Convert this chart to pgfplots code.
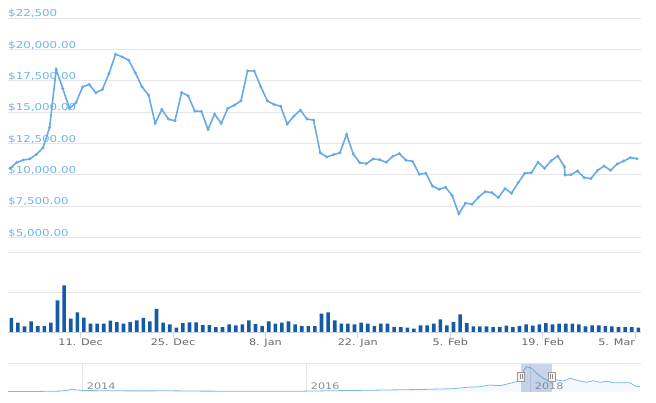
\documentclass[border=0pt]{standalone}
\usepackage{fontspec}
\setmainfont{DejaVu Sans}
\usepackage{graphicx}
\usepackage{pgfplots}
\usepackage{pgfplotstable}
\pgfplotsset{compat=1.18}

\definecolor{linec}{RGB}{102,170,232}
\definecolor{markc}{RGB}{40,100,170}
\definecolor{barc}{RGB}{20,90,165}
\definecolor{gridc}{RGB}{230,230,230}
\definecolor{tickc}{RGB}{204,214,235}
\definecolor{labc}{RGB}{110,180,232}
\definecolor{datec}{RGB}{102,102,102}
\definecolor{navc}{RGB}{124,181,236}
\definecolor{selc}{RGB}{102,133,194}
\newcommand{\wl}[1]{\scalebox{1.25}[1]{#1}}

% daily price, k = day index (Dec 11 at 10.7)
\pgfplotstableread{
k price
0 10533
1 10979
2 11194
3 11274
4 11648
5 12173
6 13797
7 18414
8 16901
9 15309
10 15755
11 17029
12 17220
13 16551
14 16822
15 18095
16 19632
17 19419
18 19154
19 18143
20 17029
21 16368
22 14115
23 15230
24 14458
25 14322
26 16583
27 16312
28 15094
29 15071
30 13638
31 14856
32 14115
33 15309
34 15572
35 15914
36 18302
37 18302
38 17029
39 15914
40 15628
41 15492
42 14060
43 14696
44 15174
45 14458
46 14378
47 11775
48 11433
49 11616
50 11775
51 13240
52 11672
53 10979
54 10899
55 11274
56 11218
57 11011
58 11489
59 11696
60 11170
61 11091
62 10056
63 10135
64 9124
65 8862
66 9021
67 8352
68 6896
69 7747
70 7668
71 8225
72 8671
73 8591
74 8193
75 8910
76 8543
77 9387
78 10135
79 10183
80 11011
81 10533
82 11138
83 11512
84 10661
84.1 10000
85 10024
86 10318
87 9785
88 9705
89 10342
90 10716
91 10374
92 10876
93 11114
94 11377
95 11297
}\price

% volume, bar height in pane units
\pgfplotstableread{
k vol
0 14
1 9.3
2 5.7
3 10.7
4 6
5 6
6 9.3
7 31.7
8 46.7
9 13.3
10 19.7
11 14.3
12 8.3
13 8.3
14 8.3
15 11.3
16 10
17 8.3
18 10
19 11.7
20 14
21 10.7
22 23
23 9.3
24 7.7
25 4.3
26 9
27 9.7
28 9.7
29 7
30 7
31 5
32 5
33 7.7
34 6.7
35 7.7
36 11.7
37 8
38 6
39 10.7
40 8.3
41 9.3
42 10.7
43 7.7
44 6
45 6
46 6
47 18.3
48 19.7
49 11.7
50 8.3
51 8.3
52 7.7
53 9.3
54 8.3
55 6
56 8.3
57 8.3
58 5
59 5
60 4.3
61 3.3
62 6.7
63 6.7
64 8.3
65 12.7
66 6.7
67 10
68 17.7
69 9
70 5.7
71 5.7
72 5.7
73 5
74 5
75 6.3
76 5
77 6
78 7.7
79 6.3
80 7.7
81 9
82 7.7
83 8.3
84 8.3
85 8.3
86 7.7
87 5.7
88 6.7
89 6.7
90 6
91 5.7
92 5
93 5
94 5
95 4.3
}\volume

% navigator overview
\pgfplotstableread{
x h
8 0.3
40 0.3
60 0.6
68 1.5
72 2.6
76 1.8
85 1.2
110 0.9
140 0.8
170 0.9
200 0.6
230 0.5
260 0.4
300 0.5
320 0.8
350 1.2
386.7 1.7
420 2.2
453.3 3.0
466.7 4.4
480 5.0
490 6.7
500 6.0
510 8.4
516 10
520 11.0
524 21.7
526.7 25
531.7 23.4
536.7 18.4
543.3 13.4
550 10
556.7 11.7
563.3 10.7
570 13.4
580 10.7
586.7 9.4
593.3 11.0
600 9.4
606.7 10.4
613.3 9.0
630 9.0
635 5.7
640 5.0
}\nav

\begin{document}
\begin{tikzpicture}[x=1pt,y=1pt]
\path[use as bounding box] (0,0) rectangle (656,402);

% price pane
\begin{axis}[
    at={(8pt,148.7pt)}, anchor=south west,
    width=633pt, height=235pt, scale only axis,
    xmin=-0.303, xmax=95.606,
    ymin=3750, ymax=22500,
    scaled y ticks=false,
    axis line style={draw=none},
    xtick=\empty,
    ytick={5000,7500,10000,12500,15000,17500,20000,22500},
    yticklabels={{\wl{\$5,000.00}},{\wl{\$7,500.00}},{\wl{\$10,000.00}},{\wl{\$12,500.00}},{\wl{\$15,000.00}},{\wl{\$17,500.00}},{\wl{\$20,000.00}},{\wl{\$22,500}}},
    ytick style={draw=none},
    ymajorgrids,
    grid style={gridc, line width=1pt},
    yticklabel style={font=\fontsize{9.5}{11}\selectfont, text=labc, anchor=base west, inner sep=0pt, yshift=1.5pt},
]
\addplot[linec, line width=1.6pt, mark=*, mark size=0.5pt, mark options={fill=markc, draw=none}]
    table[x=k, y=price] {\price};
\end{axis}

% volume pane
\begin{axis}[
    at={(8pt,70pt)}, anchor=south west,
    width=633pt, height=79pt, scale only axis,
    xmin=-0.303, xmax=95.606,
    ymin=0, ymax=79,
    axis line style={draw=none},
    ytick={39.5,79}, yticklabels={},
    ytick style={draw=none},
    ymajorgrids,
    grid style={gridc, line width=1pt},
    xtick={10.7,24.7,38.7,52.7,66.7,80.7,94.7},
    xticklabels={{\wl{11. Dec}},{\wl{25. Dec}},{\wl{8. Jan}},{\wl{22. Jan}},{\wl{5. Feb}},{\wl{19. Feb}},{\makebox[0pt][r]{\wl{5. Mar}}}},
    xtick pos=bottom, tick align=outside, major tick length=6pt,
    xtick style={tickc, line width=1pt},
    xticklabel style={font=\fontsize{9}{10}\selectfont, text=datec, anchor=base, inner sep=0pt, yshift=-7pt},
]
\addplot[ybar, bar width=3.6pt, bar shift=0pt, fill=barc, draw=none]
    table[x expr=\thisrow{k}+0.2, y=vol] {\volume};
\draw[tickc, line width=1pt] (rel axis cs:0,0) -- (rel axis cs:1,0);
\end{axis}

% navigator
\begin{axis}[
    at={(8pt,10.3pt)}, anchor=south west,
    width=633pt, height=28.4pt, scale only axis,
    xmin=8, xmax=641, ymin=0, ymax=28.4,
    axis line style={draw=none},
    ytick=\empty,
    xtick={82.7,306.7,530.7},
    xticklabels={{\wl{2014}},{\wl{2016}},{\wl{2018}}},
    xmajorgrids,
    grid style={gridc, line width=1pt},
    xtick style={draw=none},
    xticklabel style={font=\fontsize{9}{10}\selectfont, text=black!45, anchor=base west, inner sep=0pt, xshift=4pt, yshift=2.7pt},
    clip=false,
]
\addplot[draw=none, fill=navc, fill opacity=0.08] table[x=x, y=h] {\nav} \closedcycle;
\addplot[navc, line width=0.8pt] table[x=x, y=h] {\nav};
\fill[selc, opacity=0.35] (axis cs:521,0) rectangle (axis cs:551.7,28.4);
\draw[gridc, line width=1.5pt] (rel axis cs:0,1) -- (rel axis cs:1,1);
\node[draw=black!40, fill=black!4, minimum width=7pt, minimum height=9pt, inner sep=0pt, line width=0.6pt] (h1) at (axis cs:521,14.7) {};
\node[draw=black!40, fill=black!4, minimum width=7pt, minimum height=9pt, inner sep=0pt, line width=0.6pt] (h2) at (axis cs:551.7,14.7) {};
\draw[black!45, line width=0.5pt] ([xshift=-1pt,yshift=-2.5pt]h1.center) -- ([xshift=-1pt,yshift=2.5pt]h1.center);
\draw[black!45, line width=0.5pt] ([xshift=1pt,yshift=-2.5pt]h1.center) -- ([xshift=1pt,yshift=2.5pt]h1.center);
\draw[black!45, line width=0.5pt] ([xshift=-1pt,yshift=-2.5pt]h2.center) -- ([xshift=-1pt,yshift=2.5pt]h2.center);
\draw[black!45, line width=0.5pt] ([xshift=1pt,yshift=-2.5pt]h2.center) -- ([xshift=1pt,yshift=2.5pt]h2.center);
\end{axis}
\end{tikzpicture}
\end{document}
